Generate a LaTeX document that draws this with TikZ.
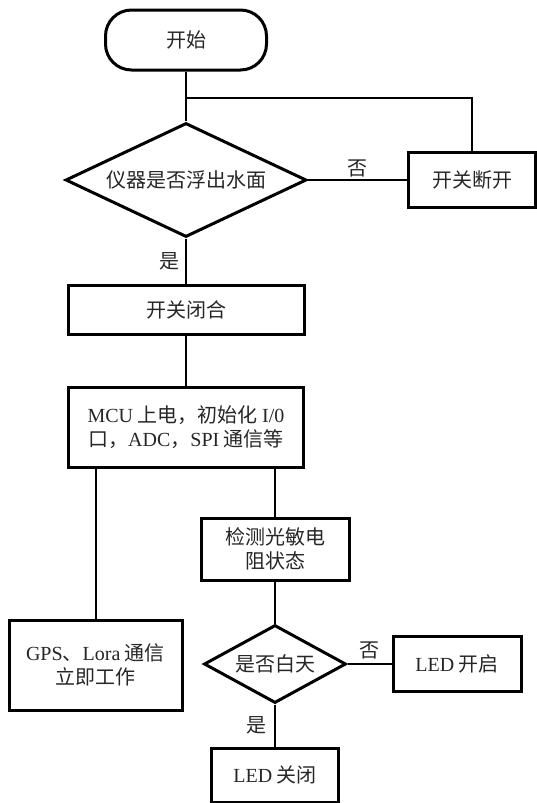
\documentclass[tikz,border=0pt]{standalone}
\usepackage{fontspec}
\setmainfont{Liberation Serif}
\newfontfamily\cjk{Noto Sans CJK SC}
\usetikzlibrary{shapes.geometric}
\newcommand{\en}[1]{{\rmfamily #1}}

\begin{document}
\begin{tikzpicture}[x=1pt, y=-1pt,
			every node/.style={font=\cjk\fontsize{20}{24}\selectfont, align=center, text=black!85},
			box/.style={draw, line width=3pt, inner sep=0pt},
			decision/.style={diamond, aspect=2, draw, line width=3pt, inner sep=0pt},
			line/.style={draw, line width=2pt}]
			\useasboundingbox (0,0) rectangle (536,803);
			\node[box, rounded corners=26pt, minimum width=161pt, minimum height=60pt] (start) at (186,40) {开始};
			\node[decision, minimum width=241pt, minimum height=114pt] (float) at (186,180) {仪器是否浮出水面};
			\node[box, minimum width=127pt, minimum height=55pt] (open) at (472,180) {开关断开};
			\node[box, minimum width=236pt, minimum height=49pt] (close) at (186,310) {开关闭合};
			\node[box, minimum width=235pt, minimum height=80pt] (mcu) at (186,427) {\en{MCU} 上电，初始化 \en{I/0}\\口，\en{ADC}，\en{SPI} 通信等};
			\node[box, minimum width=173pt, minimum height=90pt] (gps) at (95.5,665) {\en{GPS}、\en{Lora} 通信\\立即工作};
			\node[box, minimum width=148pt, minimum height=62pt] (detect) at (275,549) {检测光敏电\\阻状态};
			\node[decision, minimum width=142pt, minimum height=78pt] (day) at (275,664) {是否白天};
			\node[box, minimum width=128pt, minimum height=55pt] (ledon) at (457,664) {\en{LED} 开启};
			\node[box, minimum width=127pt, minimum height=54pt] (ledoff) at (275,775) {\en{LED} 关闭};
			\coordinate (split) at (186,98);
			\path[line]
			(start) edge (float)
			(float) edge node[above, inner sep=2pt]{否} (open) edge node[left, inner sep=6pt]{是} (close)
			(close) edge (mcu)
			(mcu.south -| gps.north) edge (gps.north)
			(mcu.south -| detect.north) edge (detect.north)
			(detect) edge (day)
			(day) edge node[above, inner sep=4pt]{否} (ledon) edge node[left, inner sep=8pt]{是} (ledoff);
			\path[line] (split) -| (open.north);
		\end{tikzpicture}
\end{document}
